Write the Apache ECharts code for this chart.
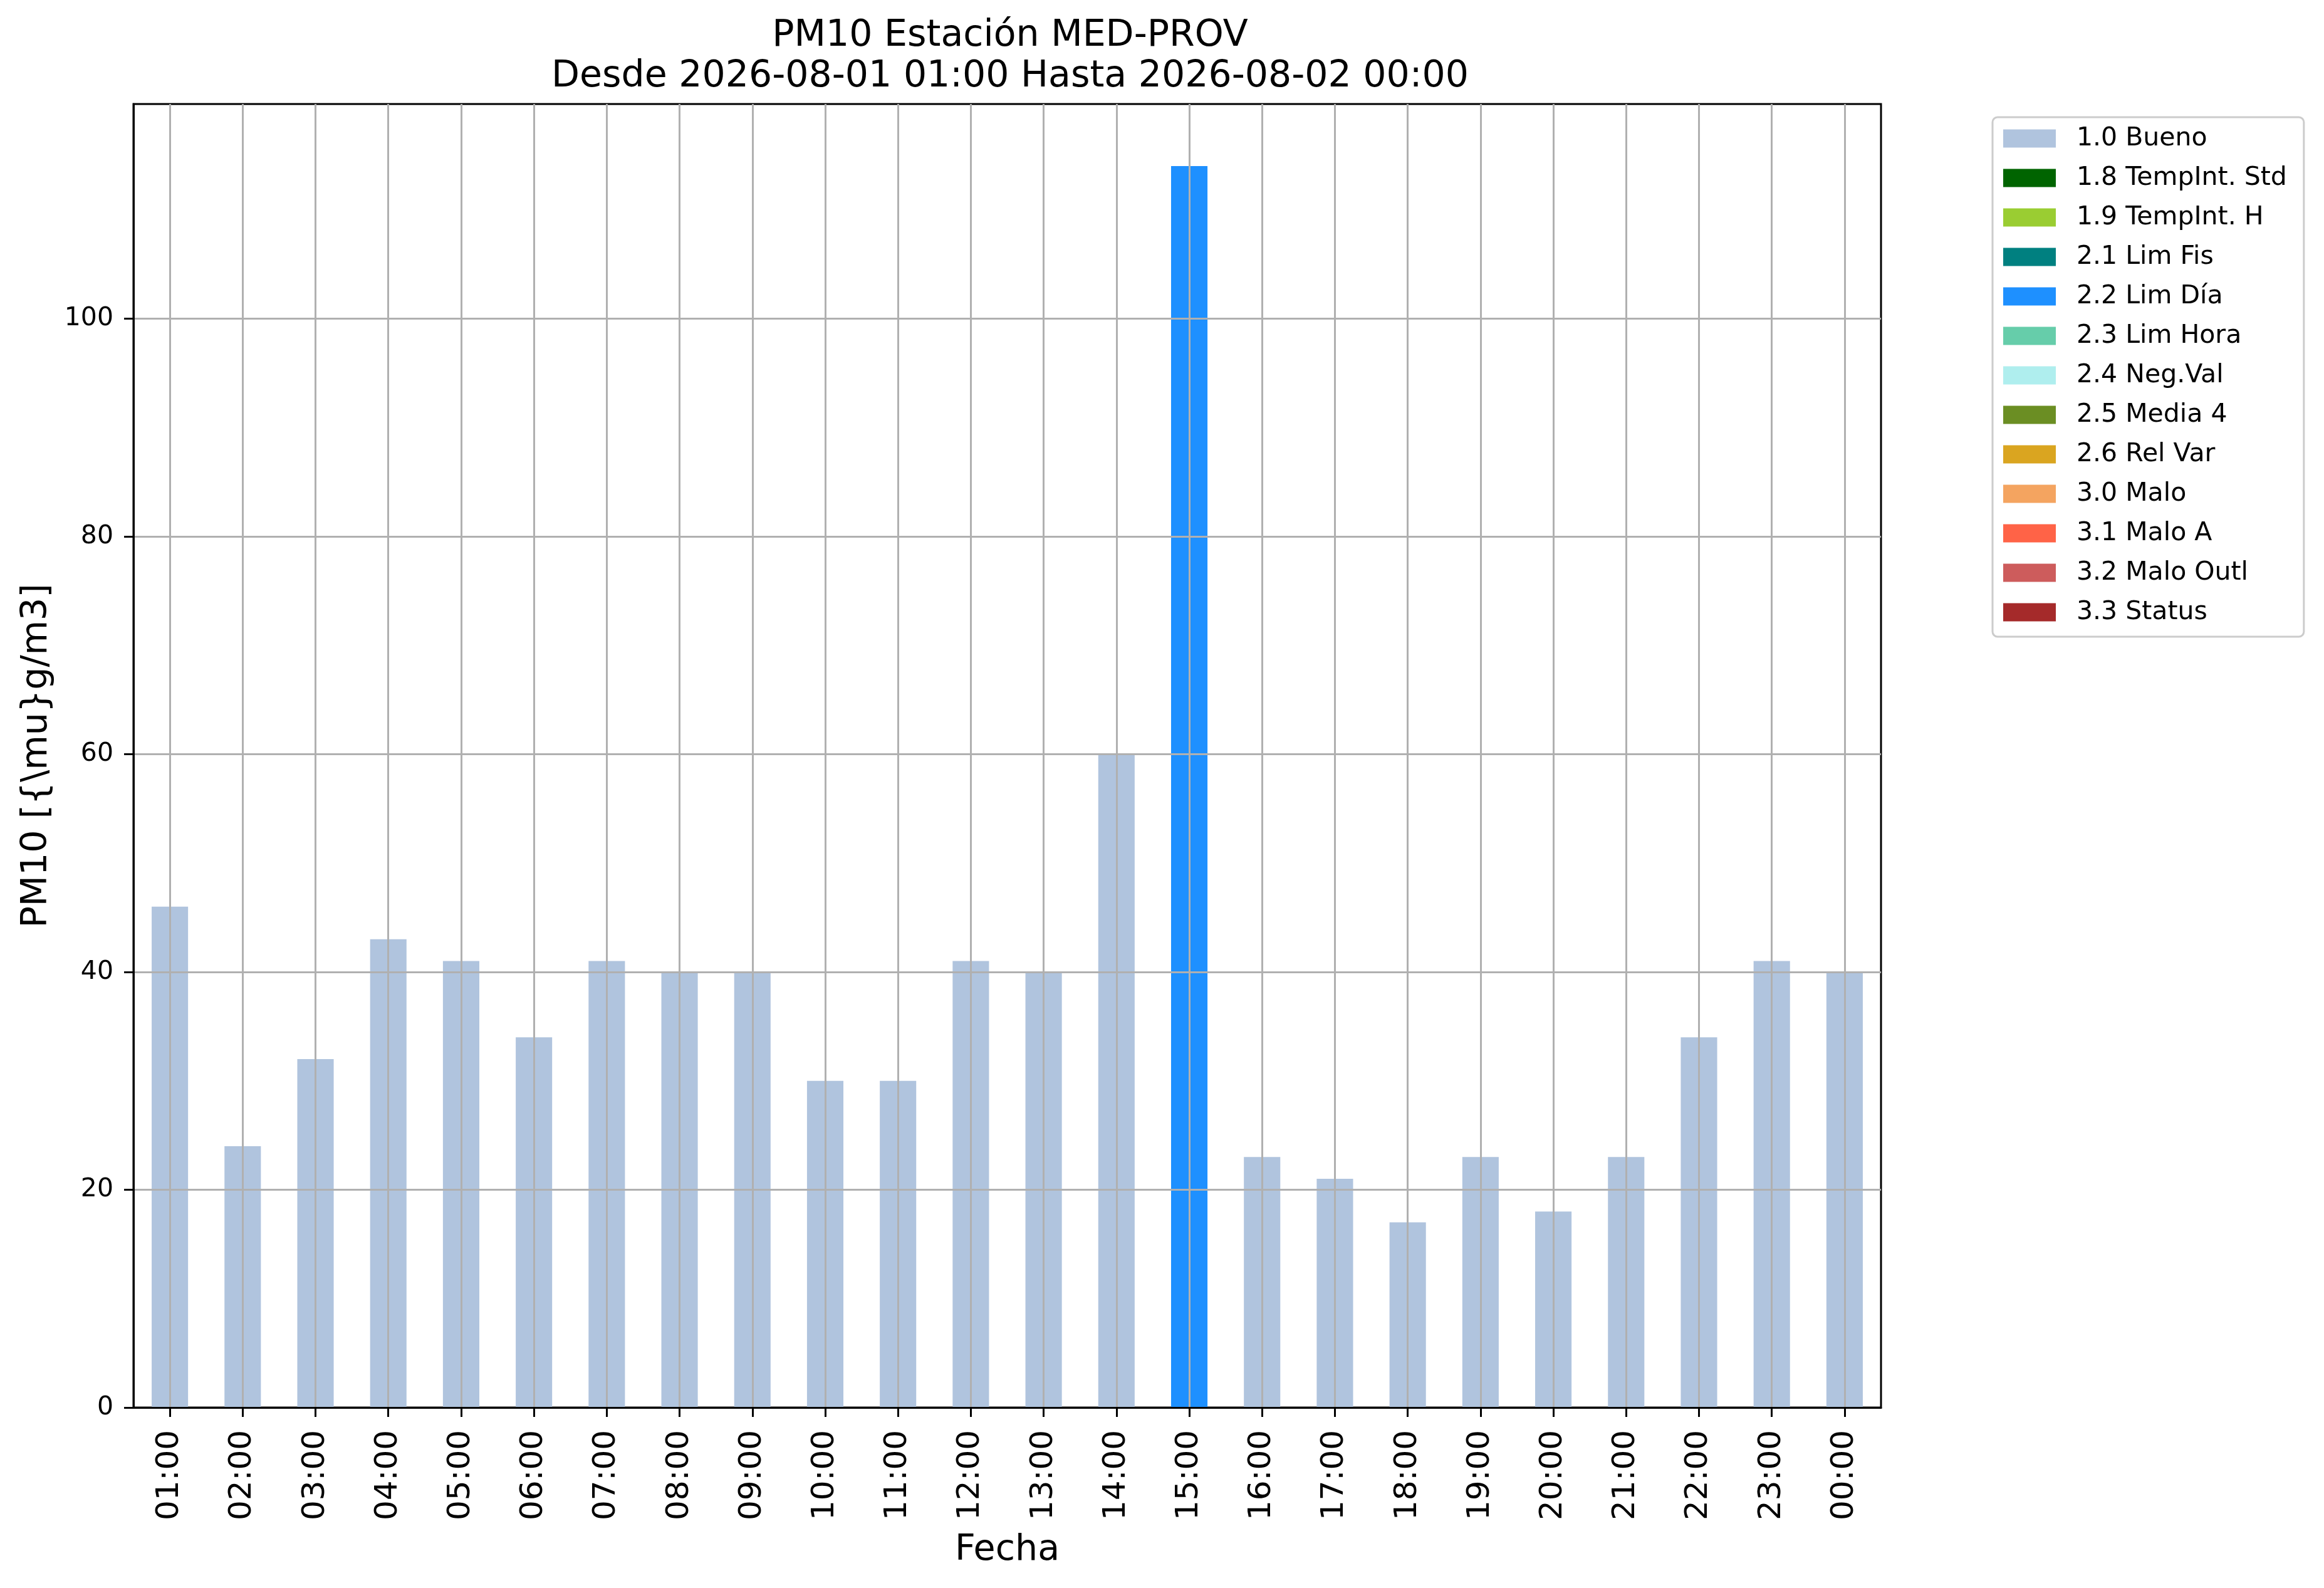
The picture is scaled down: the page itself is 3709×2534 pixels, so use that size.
<!DOCTYPE html>
<html>
<head>
<meta charset="utf-8">
<title>PM10 MED-PROV</title>
<script src="https://cdn.jsdelivr.net/npm/echarts@6/dist/echarts.min.js"></script>
<style>
  html, body { margin: 0; padding: 0; background: #fff; }
  #chart { width: 3709px; height: 2534px; }
</style>
</head>
<body>
<div id="chart"></div>
<script>
// data
var hours = ['01:00', '02:00', '03:00', '04:00', '05:00', '06:00', '07:00', '08:00',
  '09:00', '10:00', '11:00', '12:00', '13:00', '14:00', '15:00', '16:00', '17:00',
  '18:00', '19:00', '20:00', '21:00', '22:00', '23:00', '00:00'];
var pm10 = [46, 24, 32, 43, 41, 34, 41, 40, 40, 30, 30, 41, 40, 60, 114, 23, 21, 17,
  23, 18, 23, 34, 41, 40];
// validation flag of each hour
var hourFlag = ['1.0 Bueno', '1.0 Bueno', '1.0 Bueno', '1.0 Bueno', '1.0 Bueno',
  '1.0 Bueno', '1.0 Bueno', '1.0 Bueno', '1.0 Bueno', '1.0 Bueno', '1.0 Bueno',
  '1.0 Bueno', '1.0 Bueno', '1.0 Bueno', '2.2 Lim Día', '1.0 Bueno', '1.0 Bueno',
  '1.0 Bueno', '1.0 Bueno', '1.0 Bueno', '1.0 Bueno', '1.0 Bueno', '1.0 Bueno',
  '1.0 Bueno'];
var flagNames = ['1.0 Bueno', '1.8 TempInt. Std', '1.9 TempInt. H', '2.1 Lim Fis',
  '2.2 Lim Día', '2.3 Lim Hora', '2.4 Neg.Val', '2.5 Media 4', '2.6 Rel Var',
  '3.0 Malo', '3.1 Malo A', '3.2 Malo Outl', '3.3 Status'];
var flagColors = ['#B0C4DE', '#006400', '#9ACD32', '#008080', '#1E90FF', '#66CDAA',
  '#AFEEEE', '#6B8E23', '#DAA520', '#F4A460', '#FF6347', '#CD5C5C', '#A52A2A'];
var yTicks = [0, 20, 40, 60, 80, 100];

var FONT = 'DejaVu Sans';
var GRID_GRAY = '#b0b0b0';

var myChart = echarts.init(document.getElementById('chart'), null, { renderer: 'canvas' });

var series = flagNames.map(function(name, i) {
  var s = {
    name: name,
    type: 'bar',
    stack: 'flags',
    barWidth: '50%',
    itemStyle: { color: flagColors[i] },
    data: pm10.map(function(v, k) { return hourFlag[k] === name ? v : null; })
  };
  if (i === 0) {
    // vertical grid lines through the bar centres, drawn over the bars
    s.markLine = {
      silent: true,
      symbol: 'none',
      animation: false,
      label: { show: false },
      lineStyle: { color: GRID_GRAY, width: 3, type: 'solid' },
      emphasis: { disabled: true },
      data: hours.map(function(h) { return { xAxis: h }; })
    };
  }
  return s;
});

var option = {
  animation: false,
  backgroundColor: '#ffffff',
  textStyle: { fontFamily: FONT },
  title: {
    text: 'PM10 Estación MED-PROV\nDesde 2026-08-01 01:00 Hasta 2026-08-02 00:00',
    left: 1607,
    top: 20,
    textAlign: 'center',
    textStyle: {
      fontFamily: FONT,
      fontSize: 58.5,
      fontWeight: 'normal',
      color: '#000',
      lineHeight: 65
    }
  },
  legend: {
    orient: 'vertical',
    left: 3180,
    top: 187,
    padding: [13, 27, 18, 17],
    itemWidth: 84,
    itemHeight: 29,
    itemGap: 21,
    icon: 'rect',
    borderColor: '#cccccc',
    borderWidth: 3,
    borderRadius: 8,
    backgroundColor: '#ffffff',
    selectedMode: false,
    textStyle: {
      fontFamily: FONT,
      fontSize: 41,
      lineHeight: 42,
      color: '#000',
      padding: [0, 0, 0, 28]
    },
    data: flagNames
  },
  grid: {
    left: 213,
    top: 166,
    right: 707,
    bottom: 288,
    show: true,
    borderColor: '#000',
    borderWidth: 3,
    backgroundColor: 'transparent'
  },
  xAxis: {
    type: 'category',
    data: hours,
    z: 10,
    name: 'Fecha',
    nameLocation: 'middle',
    nameGap: 200,
    nameTextStyle: { fontFamily: FONT, fontSize: 57, color: '#000' },
    axisLine: { show: true, lineStyle: { color: '#000', width: 3 } },
    axisTick: { show: true, alignWithLabel: true, length: 15, lineStyle: { color: '#000', width: 3 } },
    axisLabel: {
      rotate: 90,
      interval: 0,
      margin: 36,
      fontFamily: FONT,
      fontSize: 50,
      color: '#000'
    },
    splitLine: { show: false }
  },
  yAxis: {
    type: 'value',
    min: 0,
    max: 119.7,
    interval: 20,
    z: 10,
    name: 'PM10 [{\\mu}g/m3]',
    nameLocation: 'middle',
    nameGap: 125,
    nameRotate: 90,
    nameTextStyle: { fontFamily: FONT, fontSize: 57, color: '#000' },
    axisLine: { show: true, lineStyle: { color: '#000', width: 3 } },
    axisTick: { show: true, length: 15, customValues: yTicks, lineStyle: { color: '#000', width: 3 } },
    axisLabel: {
      customValues: yTicks,
      margin: 32,
      fontFamily: FONT,
      fontSize: 41,
      color: '#000'
    },
    splitLine: { show: true, lineStyle: { color: GRID_GRAY, width: 3 } }
  },
  series: series
};

myChart.setOption(option);
window.addEventListener('resize', myChart.resize);
</script>
</body>
</html>
